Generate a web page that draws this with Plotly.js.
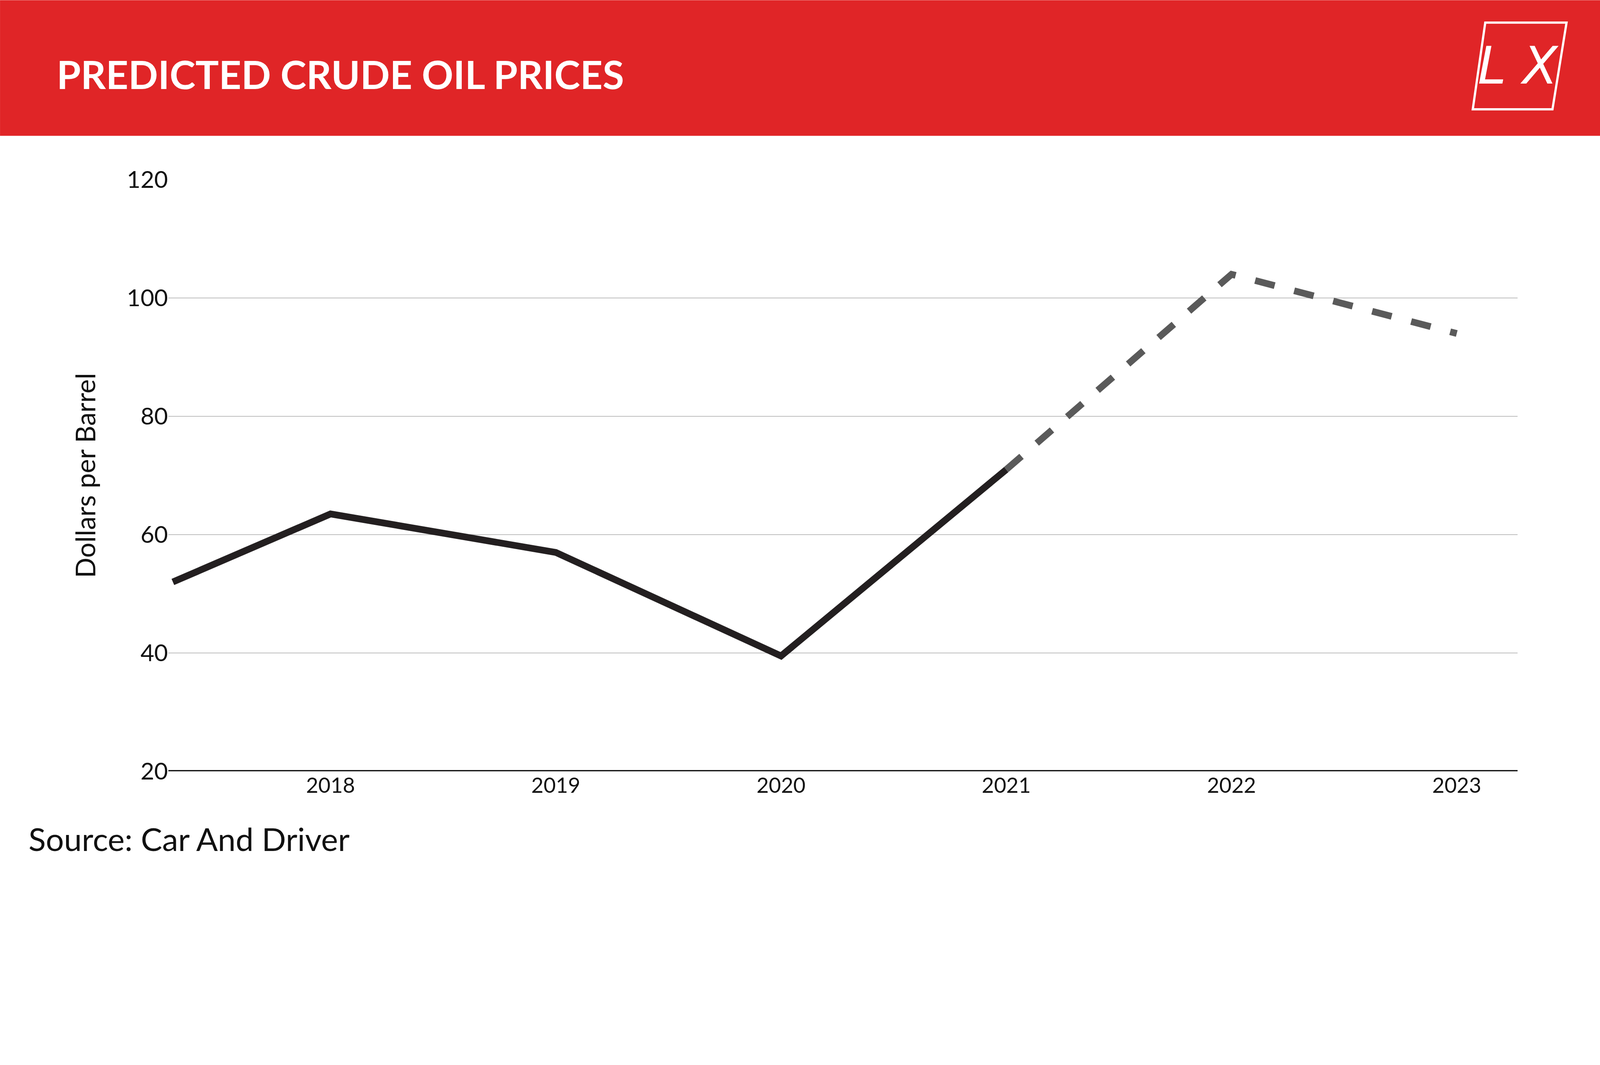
<!DOCTYPE html>
<html><head><meta charset="utf-8">
<script src="https://cdn.plot.ly/plotly-3.0.1.min.js"></script>
<style>html,body{margin:0;padding:0;background:#fff;overflow:hidden}</style>
</head><body><div id="chart"></div>
<script>
const actualYears = [2017.3, 2018, 2019, 2020, 2021];
const actualPrices = [52, 63.5, 57, 39.5, 71];
const forecastYears = [2021, 2022, 2023];
const forecastPrices = [71, 104, 94];
const tickYears = [2018, 2019, 2020, 2021, 2022, 2023];
const yTicks = [20, 40, 60, 80, 100, 120];

const vw = window.innerWidth || 5000, vh = window.innerHeight || 2727;
const s = Math.min(vw/5000, vh/2727);
const W=5000*s,H=2727*s,L=526*s,R=258*s,T=561*s,B=316*s;
const pw=W-L-R, ph=H-T-B;
const px=x=>(x*s-L)/pw, py=y=>(H-B-y*s)/ph;
const div=document.getElementById('chart');
div.style.width=W+'px'; div.style.height=H+'px';

const font="Lato, 'Open Sans', sans-serif";
Plotly.newPlot('chart',[
 {x:actualYears,y:actualPrices,mode:'lines',line:{color:'#231f20',width:21*s},hoverinfo:'skip'},
 {x:forecastYears,y:forecastPrices,mode:'lines',line:{color:'#5a5a5a',width:21*s,dash:'dash'},hoverinfo:'skip'}
],{
 width:W,height:H,showlegend:false,paper_bgcolor:'#fff',plot_bgcolor:'#fff',
 margin:{l:L,r:R,t:T,b:B},
 font:{family:font,color:'#111'},
 xaxis:{range:[2017.28,2023.27],tickvals:tickYears,ticktext:tickYears.map(String),showgrid:false,zeroline:false,showline:false,ticks:'',tickfont:{size:66*s},ticklabelstandoff:40*s},
 yaxis:{range:[20,120],tickvals:yTicks,showgrid:true,gridcolor:'#bdbdbd',gridwidth:3*s,zeroline:false,ticks:'',tickfont:{size:74*s},ticklabelstandoff:45*s,
   title:{text:'Dollars per Barrel',font:{size:84*s},standoff:70*s}},
 shapes:[
  {type:'rect',xref:'paper',yref:'paper',x0:px(0),x1:px(5000),y0:py(0),y1:py(424),fillcolor:'#e02527',line:{width:0},layer:'below'},
  {type:'line',xref:'paper',yref:'y',x0:0,x1:1,y0:20,y1:20,line:{color:'#111',width:8*s}},
  {type:'path',xref:'paper',yref:'paper',path:`M ${px(4641)} ${py(70)} L ${px(4895)} ${py(70)} L ${px(4851)} ${py(341)} L ${px(4602)} ${py(341)} Z`,line:{color:'#fff',width:7*s}}
 ],
 annotations:[
  {xref:'paper',yref:'paper',x:px(175),y:py(230),xanchor:'left',yanchor:'middle',showarrow:false,text:'<b>PREDICTED CRUDE OIL PRICES</b>',font:{size:122*s,color:'#fff',family:font}},
  {xref:'paper',yref:'paper',x:px(4745),y:py(205),xanchor:'center',yanchor:'middle',showarrow:false,text:'<i>L X</i>',font:{size:160*s,color:'#fff',family:"'DejaVu Sans', sans-serif"}},
  {xref:'paper',yref:'paper',x:px(86),y:py(2621),xanchor:'left',yanchor:'middle',showarrow:false,text:'Source: Car And Driver',font:{size:100*s,color:'#111',family:font}}
 ]
},{staticPlot:true});
</script></body></html>
